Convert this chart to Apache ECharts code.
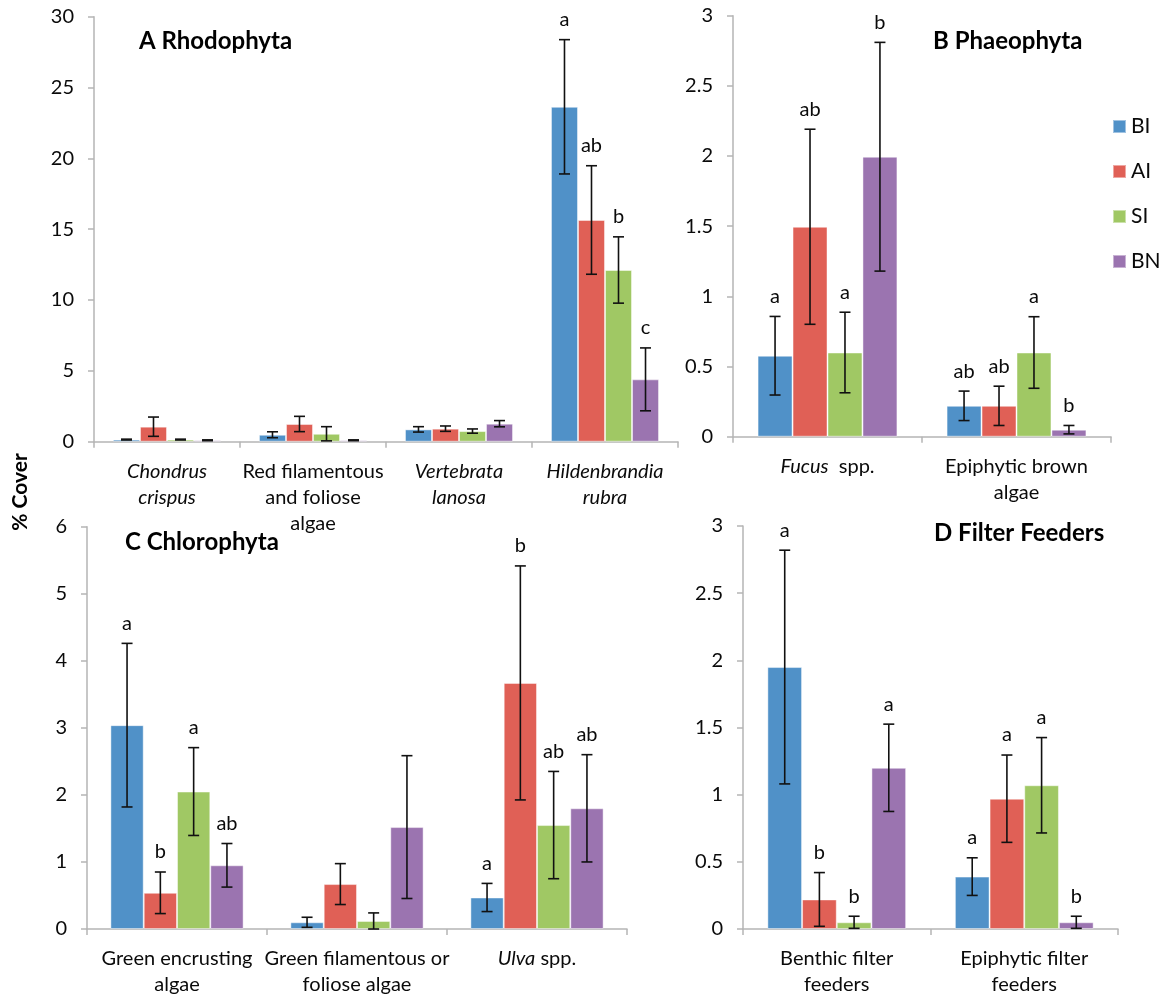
<!DOCTYPE html>
<html>
<head>
<meta charset="utf-8">
<title>% Cover by taxon</title>
<script src="https://cdn.jsdelivr.net/npm/echarts@6/dist/echarts.min.js"></script>
<style>
  html, body { margin: 0; padding: 0; background: #fff; }
  #chart { width: 1161px; height: 998px; }
</style>
</head>
<body>
<div id="chart"></div>
<script>
// Treatment groups
const groups = ['BI', 'AI', 'SI', 'BN'];

// A Rhodophyta
const rhodoCats = ['Chondrus crispus', 'Red filamentous and foliose algae', 'Vertebrata lanosa', 'Hildenbrandia rubra'];
const rhodoBI = [0.15, 0.49, 0.87, 23.64];
const rhodoAI = [1.06, 1.25, 0.92, 15.65];
const rhodoSI = [0.15, 0.56, 0.75, 12.12];
const rhodoBN = [0.10, 0.10, 1.27, 4.40];
const rhodoBIse = [0.03, 0.21, 0.19, 4.74];
const rhodoAIse = [0.68, 0.54, 0.19, 3.83];
const rhodoSIse = [0.03, 0.50, 0.15, 2.34];
const rhodoBNse = [0.03, 0.03, 0.22, 2.22];
const rhodoBIlet = ['', '', '', 'a'];
const rhodoAIlet = ['', '', '', 'ab'];
const rhodoSIlet = ['', '', '', 'b'];
const rhodoBNlet = ['', '', '', 'c'];

// B Phaeophyta
const phaeoCats = ['Fucus spp.', 'Epiphytic brown algae'];
const phaeoBI = [0.577, 0.22];
const phaeoAI = [1.496, 0.22];
const phaeoSI = [0.60, 0.60];
const phaeoBN = [1.995, 0.05];
const phaeoBIse = [0.28, 0.105];
const phaeoAIse = [0.695, 0.14];
const phaeoSIse = [0.287, 0.255];
const phaeoBNse = [0.815, 0.03];
const phaeoBIlet = ['a', 'ab'];
const phaeoAIlet = ['ab', 'ab'];
const phaeoSIlet = ['a', 'a'];
const phaeoBNlet = ['b', 'b'];

// C Chlorophyta
const chloroCats = ['Green encrusting algae', 'Green filamentous or foliose algae', 'Ulva spp.'];
const chloroBI = [3.04, 0.10, 0.47];
const chloroAI = [0.54, 0.67, 3.67];
const chloroSI = [2.05, 0.12, 1.55];
const chloroBN = [0.95, 1.52, 1.80];
const chloroBIse = [1.22, 0.075, 0.21];
const chloroAIse = [0.31, 0.305, 1.745];
const chloroSIse = [0.655, 0.12, 0.80];
const chloroBNse = [0.325, 1.065, 0.80];
const chloroBIlet = ['a', '', 'a'];
const chloroAIlet = ['b', '', 'b'];
const chloroSIlet = ['a', '', 'ab'];
const chloroBNlet = ['ab', '', 'ab'];

// D Filter Feeders
const filterCats = ['Benthic filter feeders', 'Epiphytic filter feeders'];
const filterBI = [1.95, 0.39];
const filterAI = [0.22, 0.97];
const filterSI = [0.05, 1.07];
const filterBN = [1.20, 0.05];
const filterBIse = [0.87, 0.14];
const filterAIse = [0.20, 0.325];
const filterSIse = [0.045, 0.355];
const filterBNse = [0.325, 0.045];
const filterBIlet = ['a', 'a'];
const filterAIlet = ['b', 'a'];
const filterSIlet = ['b', 'a'];
const filterBNlet = ['a', 'b'];

// Axis tick settings
const rhodoAxis = { min: 0, max: 30, interval: 5 };
const phaeoAxis = { min: 0, max: 3, interval: 0.5 };
const chloroAxis = { min: 0, max: 6, interval: 1 };
const filterAxis = { min: 0, max: 3, interval: 0.5 };

// Category label text (italic genus names)
const catLabels = {
  'Chondrus crispus': '{i|Chondrus}\n{i|crispus}',
  'Red filamentous and foliose algae': 'Red filamentous\nand foliose\nalgae',
  'Vertebrata lanosa': '{i|Vertebrata}\n{i|lanosa}',
  'Hildenbrandia rubra': '{i|Hildenbrandia}\n{i|rubra}',
  'Fucus spp.': '{i|Fucus}  spp.',
  'Epiphytic brown algae': 'Epiphytic brown\nalgae',
  'Green encrusting algae': 'Green encrusting\nalgae',
  'Green filamentous or foliose algae': 'Green filamentous or\nfoliose algae',
  'Ulva spp.': '{i|Ulva} spp.',
  'Benthic filter feeders': 'Benthic filter\nfeeders',
  'Epiphytic filter feeders': 'Epiphytic filter\nfeeders'
};

const FONT = 'Lato, "Open Sans", sans-serif';
const colors = ['#5091C8', '#E06056', '#A0C864', '#9B74B0'];
const axisGray = '#B5B5B5';
const textColor = '#0a0a0a';
const CAT_GAP = 0.26;

const panels = [
  { cats: rhodoCats, axis: rhodoAxis, grid: { left: 94, top: 16.7, width: 584, height: 425 },
    means: [rhodoBI, rhodoAI, rhodoSI, rhodoBN], se: [rhodoBIse, rhodoAIse, rhodoSIse, rhodoBNse],
    letters: [rhodoBIlet, rhodoAIlet, rhodoSIlet, rhodoBNlet] },
  { cats: phaeoCats, axis: phaeoAxis, grid: { left: 733, top: 15.7, width: 378, height: 421 },
    means: [phaeoBI, phaeoAI, phaeoSI, phaeoBN], se: [phaeoBIse, phaeoAIse, phaeoSIse, phaeoBNse],
    letters: [phaeoBIlet, phaeoAIlet, phaeoSIlet, phaeoBNlet] },
  { cats: chloroCats, axis: chloroAxis, grid: { left: 87, top: 526.7, width: 540, height: 402.6 },
    means: [chloroBI, chloroAI, chloroSI, chloroBN], se: [chloroBIse, chloroAIse, chloroSIse, chloroBNse],
    letters: [chloroBIlet, chloroAIlet, chloroSIlet, chloroBNlet] },
  { cats: filterCats, axis: filterAxis, grid: { left: 743, top: 526, width: 375, height: 403.3 },
    means: [filterBI, filterAI, filterSI, filterBN], se: [filterBIse, filterAIse, filterSIse, filterBNse],
    letters: [filterBIlet, filterAIlet, filterSIlet, filterBNlet] }
];

const grids = [], xAxes = [], yAxes = [], series = [];

panels.forEach(function (p, pi) {
  grids.push(Object.assign({ containLabel: false }, p.grid));
  xAxes.push({
    type: 'category', gridIndex: pi, data: p.cats,
    axisLine: { lineStyle: { color: axisGray, width: 1.5 } },
    axisTick: { show: true, length: 6, lineStyle: { color: axisGray, width: 1.5 } },
    axisLabel: {
      interval: 0, margin: 17, color: textColor, fontFamily: FONT, fontSize: 20, lineHeight: 26,
      formatter: function (v) { return catLabels[v] || v; },
      rich: { i: { fontStyle: 'italic', fontFamily: FONT, fontSize: 20, lineHeight: 26, color: textColor } }
    }
  });
  yAxes.push({
    type: 'value', gridIndex: pi, min: p.axis.min, max: p.axis.max, interval: p.axis.interval,
    axisLine: { show: true, lineStyle: { color: axisGray, width: 1.5 } },
    axisTick: { show: true, length: 6, lineStyle: { color: axisGray, width: 1.5 } },
    splitLine: { show: false },
    axisLabel: { margin: 20, color: textColor, fontFamily: FONT, fontSize: 20 }
  });

  groups.forEach(function (g, gi) {
    series.push({
      type: 'bar', name: g, xAxisIndex: pi, yAxisIndex: pi,
      data: p.means[gi],
      barCategoryGap: (CAT_GAP * 100) + '%', barGap: '0%',
      itemStyle: { color: colors[gi], borderColor: 'rgba(255,255,255,0.45)', borderWidth: 1 },
      emphasis: { disabled: true }
    });
  });

  // Error bars (mean ± SE, clipped at zero) and significance letters
  groups.forEach(function (g, gi) {
    const mean = p.means[gi], se = p.se[gi], lets = p.letters[gi];
    const errData = mean.map(function (m, i) { return [i, Math.max(0, m - se[i]), m + se[i]]; });
    series.push({
      type: 'custom', name: g + ' SE', xAxisIndex: pi, yAxisIndex: pi, z: 5,
      data: errData,
      encode: { x: 0, y: [1, 2] },
      renderItem: function (params, api) {
        const ci = api.value(0);
        const lo = api.value(1), hi = api.value(2);
        const band = api.size([1, 0])[0];
        const barW = band * (1 - CAT_GAP) / 4;
        const base = api.coord([ci, hi]);
        const x = base[0] + (gi - 1.5) * barW;
        const yTop = base[1];
        const yBot = api.coord([ci, lo])[1];
        const cap = 5.5;
        const st = { stroke: '#111', lineWidth: 1.6 };
        const children = [
          { type: 'line', shape: { x1: x, y1: yTop, x2: x, y2: yBot }, style: st },
          { type: 'line', shape: { x1: x - cap, y1: yTop, x2: x + cap, y2: yTop }, style: st },
          { type: 'line', shape: { x1: x - cap, y1: yBot, x2: x + cap, y2: yBot }, style: st }
        ];
        const t = lets[params.dataIndex];
        if (t) {
          children.push({
            type: 'text', x: x, y: yTop - 20,
            style: { text: t, fill: textColor, font: '20px ' + FONT, align: 'center', verticalAlign: 'middle' }
          });
        }
        return { type: 'group', children: children };
      }
    });
  });
});

const titleStyle = { fontFamily: FONT, fontWeight: 'bold', fontSize: 24, color: '#000' };

const option = {
  animation: false,
  backgroundColor: '#fff',
  title: [
    { text: 'A Rhodophyta', left: 139, top: 29, padding: 0, textStyle: titleStyle },
    { text: 'B Phaeophyta', left: 933, top: 29, padding: 0, textStyle: titleStyle },
    { text: 'C Chlorophyta', left: 125, top: 530, padding: 0, textStyle: titleStyle },
    { text: 'D Filter Feeders', left: 934, top: 521, padding: 0, textStyle: titleStyle }
  ],
  legend: {
    data: groups, orient: 'vertical', left: 1107, top: 111,
    icon: 'rect', itemWidth: 13, itemHeight: 13, itemGap: 24,
    textStyle: { fontFamily: FONT, fontSize: 21, lineHeight: 21, color: textColor }
  },
  grid: grids,
  xAxis: xAxes,
  yAxis: yAxes,
  series: series,
  graphic: [
    {
      type: 'text', x: 20, y: 492, rotation: Math.PI / 2,
      style: { text: '% Cover', font: 'bold 21px ' + FONT, fill: '#000', align: 'center', verticalAlign: 'middle' }
    }
  ]
};

const chart = echarts.init(document.getElementById('chart'), null, { renderer: 'canvas' });
chart.setOption(option);
</script>
</body>
</html>
